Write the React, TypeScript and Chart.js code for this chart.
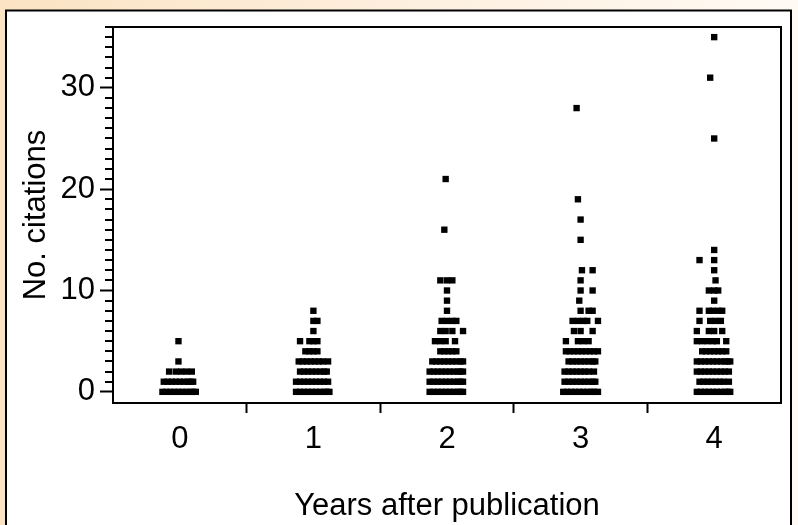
import React, { useEffect, useRef } from 'react';
import { Chart, registerables } from 'chart.js';

Chart.register(...registerables);

const years = [0, 1, 2, 3, 4];
const yMajorTicks = [0, 10, 20, 30];
const xTitle = 'Years after publication';
const yTitle = 'No. citations';

// Each row: [number of citations, horizontal jitter of each paper in hundredths of a year]
const year0: [number, number[]][] = [
  [0, [-13, -10, -7, -4, -1, 2, 5, 8, 10, 12]],
  [1, [-12, -9, -6, -3, 0, 3, 6, 8, 10]],
  [2, [-8, -3, 1, 5, 9]],
  [3, [-1]],
  [5, [-1]],
];

const year1: [number, number[]][] = [
  [0, [-13, -10, -7, -4, -1, 2, 5, 8, 10, 12]],
  [1, [-13, -10, -7, -4, -1, 2, 5, 8, 11]],
  [2, [-10, -7, -4, -1, 2, 5, 8, 10]],
  [3, [-11, -8, -5, -2, 1, 4, 7, 11]],
  [4, [-6, -3, 0, 3]],
  [5, [-10, -3, 0, 3]],
  [6, [0]],
  [7, [0, 3]],
  [8, [0]],
];

const year2: [number, number[]][] = [
  [0, [-13, -10, -7, -4, -1, 2, 5, 8, 10, 12]],
  [1, [-13, -10, -7, -4, -1, 2, 5, 8, 10, 12]],
  [2, [-13, -10, -7, -4, -1, 2, 5, 8, 10, 12]],
  [3, [-11, -8, -5, -2, 1, 4, 7, 10, 12]],
  [4, [-5, -2, 1, 4, 7]],
  [5, [-9, -5, -1, 6]],
  [6, [-5, -1, 4, 12]],
  [7, [-4, 0, 4, 7]],
  [8, [0]],
  [9, [0]],
  [10, [0]],
  [11, [-5, 0, 4]],
  [16, [-2]],
  [21, [-1]],
];

const year3: [number, number[]][] = [
  [0, [-13, -10, -7, -4, -1, 2, 5, 8, 10, 13]],
  [1, [-12, -9, -6, -3, 0, 3, 6, 9, 11]],
  [2, [-12, -9, -6, -3, 0, 3, 6, 10]],
  [3, [-9, -6, -3, 0, 3, 6, 9, 11]],
  [4, [-11, -8, -5, -2, 1, 4, 7, 10, 13]],
  [5, [-11, -2, 2, 6]],
  [6, [-5, 0, 9]],
  [7, [-6, -2, 2, 5, 13]],
  [8, [0, 6, 9]],
  [9, [-1]],
  [10, [0, 9]],
  [11, [0]],
  [12, [1, 9]],
  [15, [0]],
  [17, [0]],
  [19, [-2]],
  [28, [-3]],
];

const year4: [number, number[]][] = [
  [0, [-13, -10, -7, -4, -1, 2, 5, 8, 10, 12]],
  [1, [-11, -8, -5, -2, 1, 4, 7, 11]],
  [2, [-13, -10, -7, -4, -1, 2, 5, 8, 11]],
  [3, [-13, -10, -7, -4, -1, 2, 5, 8, 10, 12]],
  [4, [-9, -6, -3, 0, 3, 6, 9]],
  [5, [-13, -9, -5, -1, 2, 9]],
  [6, [-13, -4, 0, 6]],
  [7, [-11, -3, 1, 5]],
  [8, [-11, -4, -1, 3, 6]],
  [9, [0]],
  [10, [-4, 0, 3]],
  [11, [1]],
  [12, [0]],
  [13, [-11, 0]],
  [14, [0]],
  [25, [0]],
  [31, [-3]],
  [35, [0]],
];

const rowsByYear = [year0, year1, year2, year3, year4];

const FONT = '"Liberation Sans", Arial, sans-serif';

const framePlugin = {
  id: 'frame',
  beforeDraw(chart: any) {
    const { ctx, width, height } = chart;
    ctx.save();
    const g = ctx.createLinearGradient(0, 0, width, 0);
    g.addColorStop(0, '#fbe3c3');
    g.addColorStop(0.5, '#fdefde');
    g.addColorStop(1, '#fffaf4');
    ctx.fillStyle = g;
    ctx.fillRect(0, 0, width, height);
    ctx.fillStyle = '#ffffff';
    ctx.fillRect(6, 10.5, 785, height + 20);
    ctx.strokeStyle = '#000';
    ctx.lineWidth = 2;
    ctx.strokeRect(6, 10.5, 785, height + 20);
    ctx.restore();
  },
  afterDraw(chart: any) {
    const { ctx, chartArea } = chart;
    const y = chart.scales.y;
    ctx.save();
    ctx.strokeStyle = '#000';
    ctx.lineWidth = 2;
    ctx.beginPath();
    ctx.moveTo(chartArea.left, chartArea.top);
    ctx.lineTo(chartArea.right, chartArea.top);
    ctx.lineTo(chartArea.right, chartArea.bottom);
    ctx.stroke();
    ctx.beginPath();
    for (let v = Math.ceil(y.min); v <= Math.floor(y.max); v++) {
      if (v % 10 === 0 || v < 0) continue;
      const py = Math.round(y.getPixelForValue(v));
      ctx.moveTo(chartArea.left - 8, py);
      ctx.lineTo(chartArea.left, py);
    }
    ctx.stroke();
    ctx.restore();
  },
};

export default function App() {
  const ref = useRef<HTMLCanvasElement | null>(null);

  useEffect(() => {
    document.body.style.margin = '0';
    const canvas = ref.current;
    if (!canvas) return;

    const points = rowsByYear.flatMap((rows, i) =>
      rows.flatMap(([c, jitter]) => jitter.map((j) => ({ x: years[i] + j / 100, y: c })))
    );

    const xTicks: number[] = [];
    for (let i = 0; i < years.length; i++) {
      xTicks.push(years[i] - 0.5, years[i]);
    }
    xTicks.push(years[years.length - 1] + 0.5);

    const chart = new Chart(canvas, {
      type: 'scatter',
      data: {
        datasets: [
          {
            data: points,
            pointStyle: 'rect',
            pointRadius: 4.5,
            pointBorderWidth: 0,
            pointBackgroundColor: '#000',
            backgroundColor: '#000',
            borderColor: '#000',
          },
        ],
      },
      options: {
        responsive: false,
        animation: false,
        devicePixelRatio: 1,
        layout: { padding: { left: 10, top: 27, right: 17, bottom: 0 } },
        plugins: { legend: { display: false }, tooltip: { enabled: false } },
        scales: {
          x: {
            type: 'linear',
            min: years[0] - 0.5,
            max: years[years.length - 1] + 0.5,
            afterBuildTicks: (s: any) => {
              s.ticks = xTicks.map((v) => ({ value: v }));
            },
            afterFit: (s: any) => {
              s.height = 122;
            },
            border: { display: true, color: '#000', width: 2 },
            grid: {
              display: true,
              drawOnChartArea: false,
              drawTicks: true,
              tickLength: 10,
              tickWidth: 2,
              tickColor: (ctx: any) => {
                const v = ctx.tick ? ctx.tick.value : 0;
                if (Number.isInteger(v)) return 'rgba(0,0,0,0)';
                if (v < years[0] || v > years[years.length - 1]) return 'rgba(0,0,0,0)';
                return '#000';
              },
            },
            ticks: {
              autoSkip: false,
              maxRotation: 0,
              minRotation: 0,
              padding: 8,
              color: '#000',
              font: { family: FONT, size: 31 },
              callback: (v: any) => (Number.isInteger(Number(v)) ? String(v) : ''),
            },
            title: {
              display: true,
              text: xTitle,
              color: '#000',
              font: { family: FONT, size: 31 },
              padding: { top: 0, bottom: 0 },
            },
          },
          y: {
            type: 'linear',
            min: -1.1,
            max: 36,
            afterBuildTicks: (s: any) => {
              s.ticks = yMajorTicks.map((v) => ({ value: v }));
            },
            afterFit: (s: any) => {
              s.width = 103;
            },
            border: { display: true, color: '#000', width: 2 },
            grid: {
              display: true,
              drawOnChartArea: false,
              drawTicks: true,
              tickLength: 13,
              tickWidth: 2,
              tickColor: '#000',
            },
            ticks: {
              autoSkip: false,
              padding: 5,
              color: '#000',
              font: { family: FONT, size: 31 },
            },
            title: {
              display: true,
              text: yTitle,
              color: '#000',
              font: { family: FONT, size: 31 },
              padding: { top: 8, bottom: 0 },
            },
          },
        },
      },
      plugins: [framePlugin],
    });

    return () => chart.destroy();
  }, []);

  return <canvas ref={ref} width={798} height={525} style={{ display: 'block', width: 798, height: 525 }} />;
}
